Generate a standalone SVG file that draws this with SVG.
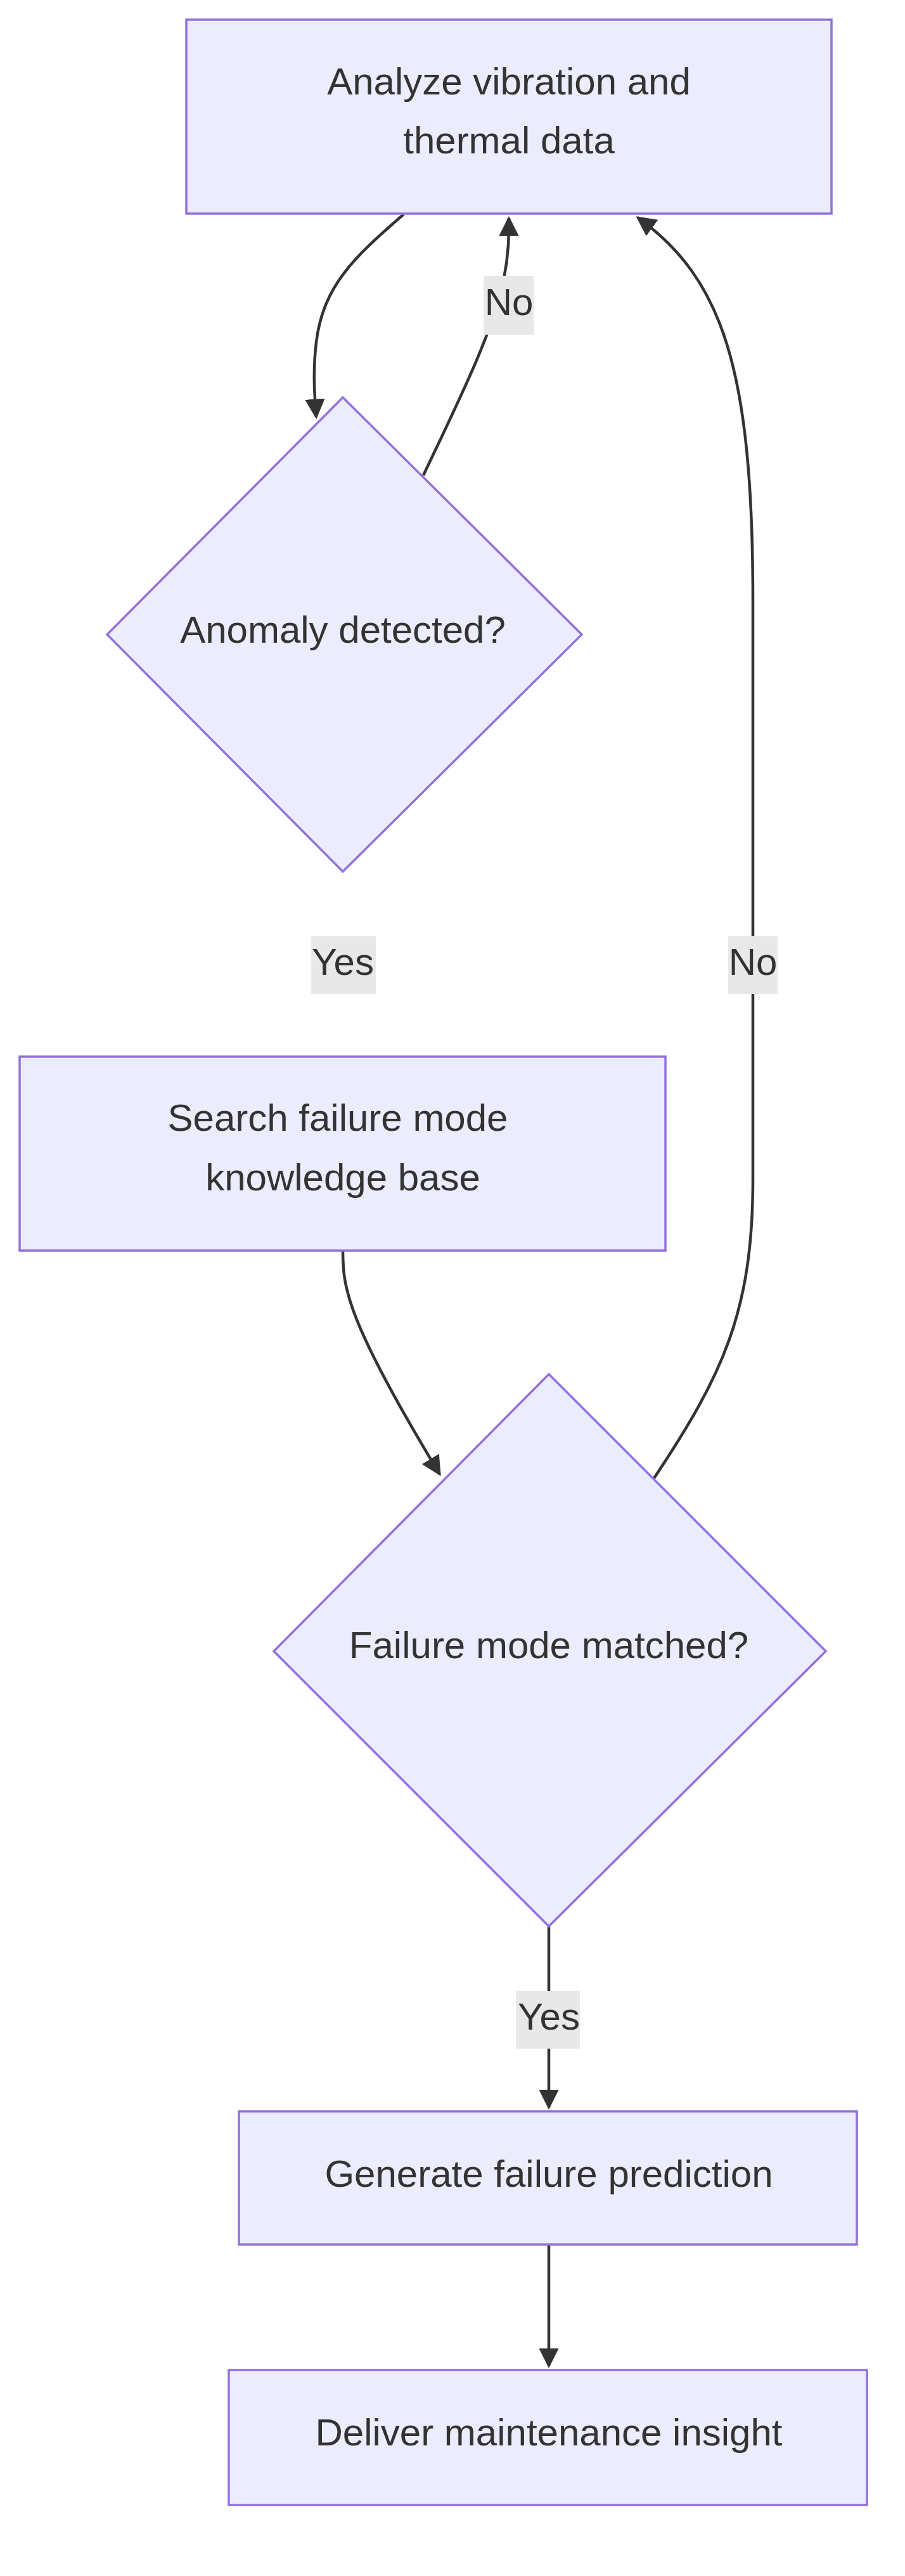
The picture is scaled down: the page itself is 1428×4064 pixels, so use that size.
<svg xmlns="http://www.w3.org/2000/svg" width="1428" height="4064" viewBox="0 0 1428 4064">
<style>
.n{fill:#ECECFF;stroke:#9370DB;stroke-width:3.5}
.t{font-family:"Liberation Sans",Arial,sans-serif;font-size:60px;fill:#333;text-anchor:middle;dominant-baseline:middle}
.e{fill:none;stroke:#333;stroke-width:4.5}
.lb{fill:#e8e8e8}
</style>
<defs><marker id="a" viewBox="0 0 10 10" refX="9" refY="5" markerWidth="7" markerHeight="7" markerUnits="strokeWidth" orient="auto"><path d="M0,0L10,5L0,10z" fill="#333"/></marker></defs>
<rect width="1428" height="4064" fill="#fff"/>
<g id="edges">
<path class="e" d="M637,338 C560,405 510,450 499,540 C493,590 497,630 499,658" marker-end="url(#a)"/>
<path class="e" d="M668,750 C720,640 780,520 795,440 C803,400 803,370 803,344" marker-end="url(#a)"/>
<path class="e" d="M1032,2332 C1140,2170 1188,2070 1188,1860 L1188,950 C1188,580 1140,440 1006,343" marker-end="url(#a)"/>
<path class="e" d="M541,1973 C541,2030 545,2080 694,2326" marker-end="url(#a)"/>
<path class="e" d="M866,3039 L866,3325" marker-end="url(#a)"/>
<path class="e" d="M866,3541 L866,3733" marker-end="url(#a)"/>
</g>
<g id="labels">
<rect class="lb" x="763" y="435" width="79" height="93"/><text class="t" x="803" y="481">No</text>
<rect class="lb" x="491" y="1477" width="102" height="91"/><text class="t" x="541" y="1522">Yes</text>
<rect class="lb" x="1149" y="1477" width="78" height="91"/><text class="t" x="1188" y="1522">No</text>
<rect class="lb" x="814" y="3141" width="101" height="91"/><text class="t" x="866" y="3186">Yes</text>
</g>
<g id="n1"><rect class="n" x="294" y="31" width="1018" height="306"/><text class="t" x="803" y="133">Analyze vibration and</text><text class="t" x="803" y="226">thermal data</text></g>
<g id="n2"><path class="n" d="M541,627L918,1001L541,1375L169,1001Z"/><text class="t" x="541" y="998">Anomaly detected?</text></g>
<g id="n3"><rect class="n" x="31" y="1667" width="1019" height="306"/><text class="t" x="533" y="1768">Search failure mode</text><text class="t" x="541" y="1862">knowledge base</text></g>
<g id="n4"><path class="n" d="M866,2168L1303,2605L866,3039L432,2605Z"/><text class="t" x="866" y="2600">Failure mode matched?</text></g>
<g id="n5"><rect class="n" x="377" y="3331" width="975" height="210"/><text class="t" x="866" y="3434">Generate failure prediction</text></g>
<g id="n6"><rect class="n" x="361" y="3739" width="1007" height="213"/><text class="t" x="866" y="3842">Deliver maintenance insight</text></g>
</svg>
